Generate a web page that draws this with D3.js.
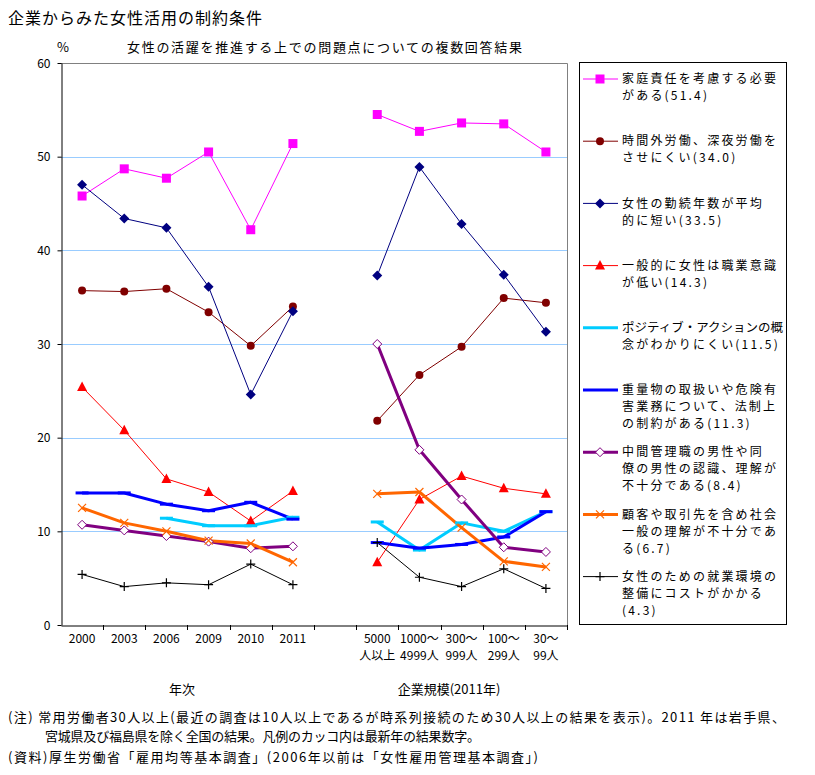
<!DOCTYPE html>
<html><head><meta charset="utf-8">
<script src="https://cdn.jsdelivr.net/npm/d3@7/dist/d3.min.js"></script>
<style>
body{margin:0;background:#fff;}
text{font-family:"Noto Sans CJK JP","Noto Sans",sans-serif;fill:#000;}
</style></head>
<body><svg id="c" width="815" height="775"></svg>
<script>
// ---- data ----
const yearCats = ["2000","2003","2006","2009","2010","2011"];
const sizeCats = [["5000","人以上"],["1000～","4999人"],["300～","999人"],["100～","299人"],["30～","99人"]];
const yTicks = [0,10,20,30,40,50,60];
const seriesNames = [
  ["家庭責任を考慮する必要","がある(51.4)"],
  ["時間外労働、深夜労働を","させにくい(34.0)"],
  ["女性の勤続年数が平均","的に短い(33.5)"],
  ["一般的に女性は職業意識","が低い(14.3)"],
  ["ポジティブ・アクションの概","念がわかりにくい(11.5)"],
  ["重量物の取扱いや危険有","害業務について、法制上","の制約がある(11.3)"],
  ["中間管理職の男性や同","僚の男性の認識、理解が","不十分である(8.4)"],
  ["顧客や取引先を含め社会","一般の理解が不十分であ","る(6.7)"],
  ["女性のための就業環境の","整備にコストがかかる","(4.3)"]
];
// values by year (2000..2011)
const yearVals = [
  [45.8,48.7,47.7,50.5,42.2,51.4],
  [35.7,35.6,35.9,33.4,29.8,34.0],
  [47.0,43.4,42.4,36.1,24.6,33.5],
  [25.4,20.8,15.6,14.2,11.1,14.3],
  [null,null,11.4,10.6,10.6,11.5],
  [14.1,14.1,12.9,12.2,13.1,11.3],
  [10.7,10.1,9.5,8.9,8.2,8.4],
  [12.5,10.9,10.0,9.0,8.7,6.7],
  [5.4,4.1,4.5,4.3,6.5,4.3]
];
// values by firm size (2011)
const sizeVals = [
  [54.5,52.7,53.6,53.5,50.5],
  [21.8,26.7,29.7,34.9,34.4],
  [37.3,48.9,42.8,37.4,31.3],
  [6.7,13.4,15.9,14.6,14.0],
  [11.0,8.0,10.9,10.0,12.1],
  [8.8,8.2,8.6,9.4,12.1],
  [30.0,18.7,13.4,8.3,7.8],
  [14.0,14.2,10.4,6.8,6.2],
  [8.8,5.1,4.1,6.0,3.9]
];
const colors = ["#FF00FF","#800000","#000080","#FF0000","#00CCFF","#0000FF","#800080","#FF6600","#000000"];
const markers = ["square","circle","diamond","triangle","dash","dash","odiamond","x","plus"];
const widths = [1,1,1,1,3,3,3,3,1];

// ---- layout ----
const svg = d3.select("#c");
const L = 61, R = 567, T = 63, B = 625;
const keys = yearCats.concat(["gap"]).concat(sizeCats.map((d,i)=>"s"+i));
const x = d3.scaleBand().domain(keys).range([L,R]).padding(0);
const y = d3.scaleLinear().domain([0,60]).range([B,T]);

// gridlines
svg.append("g").selectAll("line").data(yTicks.filter(v=>v>0&&v<60)).join("line")
  .attr("x1",L).attr("x2",R).attr("y1",d=>Math.round(y(d))+0.5).attr("y2",d=>Math.round(y(d))+0.5)
  .attr("stroke","#99CCFF").attr("stroke-width",1);
// plot border (top/right gray)
svg.append("path").attr("d",`M${L},${T+0.5}H${R+0.5}V${B}`).attr("fill","none").attr("stroke","#808080");

// y axis
const yAxis = svg.append("g").attr("transform",`translate(${L+0.5},0)`)
  .call(d3.axisLeft(y).tickValues(yTicks).tickSize(4).tickSizeOuter(0));
yAxis.select(".domain").attr("stroke","#000");
yAxis.selectAll("text").attr("font-size","12px").attr("x",-11).attr("dy","0.35em");
// x axis
const xAxis = svg.append("g").attr("transform",`translate(0,${B+0.5})`)
  .call(d3.axisBottom(x).tickSize(0).tickFormat(""));
xAxis.select(".domain").attr("stroke","#000");
svg.append("g").selectAll("line").data(keys).join("line")
  .attr("x1",d=>Math.round(x(d)+x.bandwidth())+0.5).attr("x2",d=>Math.round(x(d)+x.bandwidth())+0.5)
  .attr("y1",B).attr("y2",B+5).attr("stroke","#000");

// x labels
svg.append("g").selectAll("text").data(yearCats).join("text")
  .attr("x",d=>x(d)+x.bandwidth()/2).attr("y",643).attr("text-anchor","middle")
  .attr("font-size","12px").text(d=>d);
const sl = svg.append("g").selectAll("g").data(sizeCats).join("g");
sl.append("text").attr("x",(d,i)=>x("s"+i)+x.bandwidth()/2).attr("y",643).attr("text-anchor","middle")
  .attr("font-size","12px").text(d=>d[0]);
sl.append("text").attr("x",(d,i)=>x("s"+i)+x.bandwidth()/2).attr("y",660).attr("text-anchor","middle")
  .attr("font-size","12px").text(d=>d[1]);

svg.append("text").attr("x",182).attr("y",694).attr("text-anchor","middle").attr("font-size","13px").text("年次");
svg.append("text").attr("x",449).attr("y",694).attr("text-anchor","middle").attr("font-size","13px").text("企業規模(2011年)");

// marker drawing
function drawMarker(g, type, color){
  if(type==="square") g.append("rect").attr("x",-4.5).attr("y",-4.5).attr("width",9).attr("height",9).attr("fill",color);
  else if(type==="circle") g.append("circle").attr("r",4).attr("fill",color);
  else if(type==="diamond") g.append("path").attr("d","M0,-5L5,0L0,5L-5,0Z").attr("fill",color);
  else if(type==="odiamond") g.append("path").attr("d","M0,-4.5L4.5,0L0,4.5L-4.5,0Z").attr("fill","#fff").attr("stroke",color).attr("stroke-width",1);
  else if(type==="triangle") g.append("path").attr("d","M0,-5.5L5,4L-5,4Z").attr("fill",color);
  else if(type==="x") g.append("path").attr("d","M-4,-4L4,4M-4,4L4,-4").attr("stroke",color).attr("stroke-width",1.2);
  else if(type==="plus") g.append("path").attr("d","M-4.5,0H4.5M0,-4.5V4.5").attr("stroke",color).attr("stroke-width",1.2);
  else if(type==="dash") g.append("path").attr("d","M-6.5,0H6.5").attr("stroke",color).attr("stroke-width",3);
}

const line = d3.line().defined(d=>d.v!==null).x(d=>x(d.k)+x.bandwidth()/2).y(d=>y(d.v));
const plot = svg.append("g");
for(let s=0;s<9;s++){
  const segs = [
    yearCats.map((k,i)=>({k, v:yearVals[s][i]})),
    sizeCats.map((k,i)=>({k:"s"+i, v:sizeVals[s][i]}))
  ];
  const g = plot.append("g");
  segs.forEach(seg=>{
    g.append("path").attr("d",line(seg)).attr("fill","none").attr("stroke",colors[s])
      .attr("stroke-width",widths[s]).attr("stroke-linejoin","round");
  });
}
for(let s=0;s<9;s++){
  const pts = yearCats.map((k,i)=>({k, v:yearVals[s][i]}))
    .concat(sizeCats.map((k,i)=>({k:"s"+i, v:sizeVals[s][i]}))).filter(d=>d.v!==null);
  pts.forEach(d=>{
    const g = plot.append("g").attr("transform",`translate(${x(d.k)+x.bandwidth()/2},${y(d.v)})`);
    drawMarker(g, markers[s], colors[s]);
  });
}

// legend
svg.append("rect").attr("x",579.5).attr("y",62.5).attr("width",207).attr("height",562)
  .attr("fill","none").attr("stroke","#000");
seriesNames.forEach((lines,i)=>{
  const yy = 79 + i*62.2;
  svg.append("line").attr("x1",583).attr("x2",618).attr("y1",yy).attr("y2",yy)
    .attr("stroke",colors[i]).attr("stroke-width",widths[i]);
  if(markers[i]!=="dash"){
    const g = svg.append("g").attr("transform",`translate(600,${yy})`);
    drawMarker(g, markers[i], colors[i]);
  }
  lines.forEach((t,j)=>{
    const tx = svg.append("text").attr("x",622).attr("y",yy+j*17).attr("dy","0.35em")
      .attr("font-size","12px").attr("letter-spacing","2.2px").text(t);
    const w = tx.node().getComputedTextLength();
    if(w > 161){
      tx.attr("letter-spacing",null).attr("textLength",161).attr("lengthAdjust","spacingAndGlyphs");
    }
  });
});

// titles
svg.append("text").attr("x",8).attr("y",24).attr("font-size","16px").attr("letter-spacing","1px").text("企業からみた女性活用の制約条件");
svg.append("text").attr("x",57).attr("y",52).attr("font-size","13px").text("%");
svg.append("text").attr("x",127).attr("y",52).attr("font-size","13px").attr("textLength",395).attr("lengthAdjust","spacing")
  .text("女性の活躍を推進する上での問題点についての複数回答結果");

// notes
const notes = [
  {x:8,y:722,w:777,t:"(注) 常用労働者30人以上(最近の調査は10人以上であるが時系列接続のため30人以上の結果を表示)。2011 年は岩手県、"},
  {x:45,y:741,w:435,t:"宮城県及び福島県を除く全国の結果。凡例のカッコ内は最新年の結果数字。"},
  {x:8,y:762,w:530,t:"(資料)厚生労働省「雇用均等基本調査」(2006年以前は「女性雇用管理基本調査」)"}
];
notes.forEach(n=>{
  svg.append("text").attr("x",n.x).attr("y",n.y).attr("font-size","13px")
    .attr("textLength",n.w).attr("lengthAdjust","spacing").text(n.t);
});
</script></body></html>
